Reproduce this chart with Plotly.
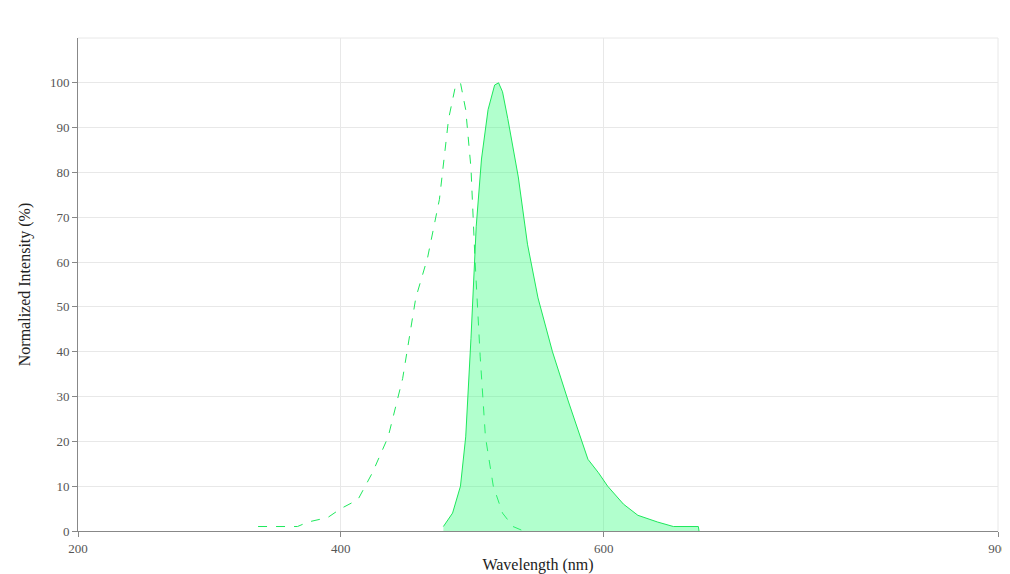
import plotly.graph_objects as go

ex_x = [337,343,367,375,390,400,413,424,436,447,457,466,475,482,487,491,495,499,502,506,510,516,523,531,539]
ex_y = [1,1,1,2,3,5,7,13,21,34,52,61,74,92,99,100,94,81,61,39,21,10,4,1,0]
em_x = [478,485,491,495,499,503,507,512,517,520,523,527,535,542,550,561,573,580,588,596,603,615,626,641,653,672,672.5]
em_y = [1,4,10,21,43,68,83,94,99.5,100,98,92,79,64,52,40,29,23,16,13,10,6,3.5,2,1,1,0]
xticks = [200,400,600,900]
yticks = list(range(0, 101, 10))

fig = go.Figure()
fig.add_trace(go.Scatter(x=ex_x, y=ex_y, mode="lines", line=dict(color="#1ee85c", width=1, dash="dash"), name="Excitation"))
fig.add_trace(go.Scatter(x=em_x, y=em_y, mode="lines", line=dict(color="#1ee85c", width=1), fill="tozeroy", fillcolor="rgba(60,255,130,0.4)", name="Emission"))
fig.update_layout(width=1010, height=574, margin=dict(l=70, r=20, t=30, b=51), plot_bgcolor="white", paper_bgcolor="white",
                  showlegend=False, font=dict(family="Liberation Serif", size=13, color="#555"))
fig.update_xaxes(range=[200,900], tickvals=xticks, showgrid=True, gridcolor="#e8e8e8", showline=True, linecolor="#888", ticks="outside", ticklen=5, tickcolor="#888",
                 title=dict(text="Wavelength (nm)", font=dict(color="#222"), standoff=4), zeroline=False, automargin=False)
fig.update_yaxes(range=[0,110], tickvals=yticks, showgrid=True, gridcolor="#e8e8e8", showline=True, linecolor="#888", ticks="outside", ticklen=5, tickcolor="#888",
                 title=dict(text="Normalized Intensity (%)", font=dict(color="#222")), zeroline=False, automargin=False)
fig.add_shape(type="line", xref="paper", yref="paper", x0=0, x1=1, y0=1, y1=1, line=dict(color="#e8e8e8", width=1))
fig.add_shape(type="line", xref="paper", yref="paper", x0=1, x1=1, y0=0, y1=1, line=dict(color="#e8e8e8", width=1))
fig.write_html("out.html")
